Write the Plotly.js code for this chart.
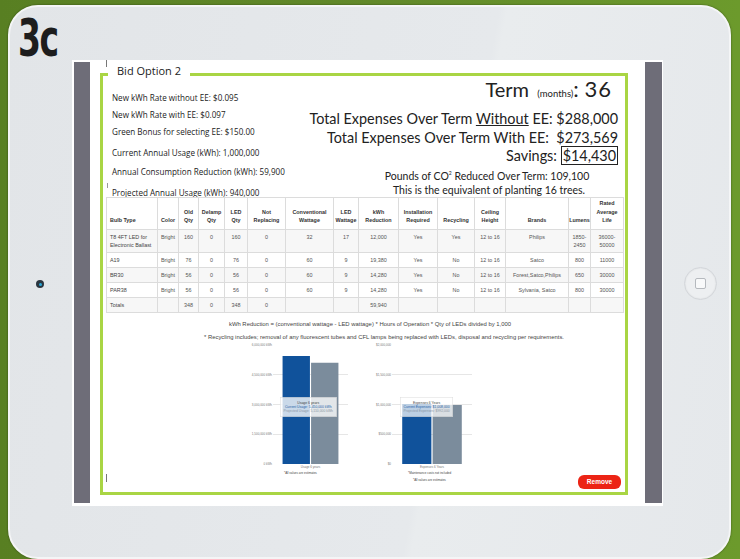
<!DOCTYPE html>
<html><head><meta charset="utf-8">
<script src="https://cdn.plot.ly/plotly-3.0.1.min.js"></script>
<style>
html,body{margin:0;padding:0;}
body{width:740px;height:559px;overflow:hidden;position:relative;background:linear-gradient(90deg,#587f22 0%,#62892a 50%,#6c9a2c 100%);font-family:"Open Sans",sans-serif;}
.abs{position:absolute;white-space:nowrap;}
#ipad{position:absolute;left:8px;top:5px;width:719px;height:550px;border-radius:30px;background:linear-gradient(100deg,#e2e5e8 0%,#e6e9ec 60%,#e9ecee 61%,#e5e8eb 100%);border:2px solid #f4f5f6;box-shadow:0 0 2px rgba(0,0,0,0.5);}
#screen{position:absolute;left:72px;top:60px;width:591px;height:446px;background:#fff;}
.side{position:absolute;top:62px;height:441px;background:#6e6d78;}
#box{position:absolute;left:100px;top:73px;width:522px;height:416px;border:3px solid #a9d544;}
#legend{position:absolute;left:108px;top:64px;width:82px;height:16px;background:#fff;}
.lt{font-family:"Open Sans",sans-serif;font-size:8.1px;color:#222;left:112px;line-height:10px;}
.hd{font-family:Lato,sans-serif;color:#222;right:122px;text-align:right;}
table{position:absolute;left:106px;top:197px;width:517px;border-collapse:collapse;table-layout:fixed;font-family:"Liberation Sans",Arial,sans-serif;font-size:5.4px;color:#555;}
td,th{border:0.6px solid #dcdcdc;text-align:center;padding:0;overflow:visible;}
th{vertical-align:bottom;padding-bottom:4px;line-height:8.6px;color:#333;font-weight:bold;}
td{vertical-align:top;padding-top:3px;line-height:8.4px;}
td.first,th.first{text-align:left;padding-left:3px;}
.fn{font-family:"Liberation Sans",Arial,sans-serif;font-size:5.9px;color:#444;left:0;width:740px;text-align:center;}
</style></head>
<body>
<div id="ipad"></div>
<div class="abs" style="left:18px;top:9px;font-family:'DejaVu Sans Condensed','DejaVu Sans',sans-serif;font-stretch:condensed;font-weight:bold;font-size:51px;color:#1d1d1d;letter-spacing:-2px;transform:scaleX(0.72);transform-origin:left top;">3c</div>
<div style="position:absolute;left:36px;top:280px;width:8px;height:8px;border-radius:50%;background:#2b3640;"></div>
<div style="position:absolute;left:38.5px;top:282.5px;width:3px;height:3px;border-radius:50%;background:#2aa6d6;"></div>
<div style="position:absolute;left:684px;top:267px;width:31px;height:31px;border-radius:50%;background:#edeff1;border:1px solid #d3d6da;box-shadow:inset 0 0 2px rgba(0,0,0,0.1);"></div>
<div style="position:absolute;left:695px;top:278px;width:9px;height:9px;border-radius:2px;border:1px solid #b5b9be;background:#f8f9fa;"></div>
<div id="screen"></div>
<div class="side" style="left:74px;width:16px;"></div>
<div class="side" style="left:645px;width:17px;"></div>
<div id="box"></div>
<div id="legend"></div>
<div class="abs" style="left:106px;top:60px;width:1px;height:7px;background:#777;"></div>
<div class="abs" style="left:107px;top:183px;width:1px;height:5px;background:#999;"></div>
<div class="abs" style="left:106px;top:474px;width:1px;height:8px;background:#777;"></div>
<div class="abs" style="left:117px;top:63px;font-size:11px;line-height:16px;color:#222;font-family:'Open Sans',sans-serif;">Bid Option 2</div>

<div id="leftText"></div>
<div id="headText"></div>

<table id="tbl"></table>

<div class="abs fn" style="top:321px;line-height:7px;">kWh Reduction = (conventional wattage - LED wattage) * Hours of Operation * Qty of LEDs divided by 1,000</div>
<div class="abs fn" style="top:334px;line-height:7px;padding-left:14px;">* Recycling includes; removal of any fluorescent tubes and CFL lamps being replaced with LEDs, disposal and recycling per requirements.</div>

<div id="chart1" style="position:absolute;left:226px;top:336px;width:130px;height:160px;"></div>
<div id="chart2" style="position:absolute;left:356px;top:336px;width:124px;height:160px;"></div>

<div class="abs" style="left:578px;top:475px;width:43px;height:14px;border-radius:6px;background:#ec2415;color:#fff;font-family:'Liberation Sans',Arial,sans-serif;font-size:6.5px;line-height:14px;text-align:center;font-weight:bold;">Remove</div>

<script>
// ---- values ----
const leftLabels = ["New kWh Rate without EE: $0.095","New kWh Rate with EE: $0.097","Green Bonus for selecting EE:  $150.00","Current Annual Usage (kWh): 1,000,000","Annual Consumption Reduction (kWh): 59,900","Projected Annual Usage (kWh): 940,000"];
const termMonths = 36;
const expensesWithout = "$288,000";
const expensesWith = "$273,569";
const savings = "$14,430";
const co2Reduced = "109,100";
const treesPlanted = 16;

const tableHeader = ["Bulb Type","Color","Old Qty","Delamp Qty","LED Qty","Not Replacing","Conventional Wattage","LED Wattage","kWh Reduction","Installation Required","Recycling","Ceiling Height","Brands","Lumens","Rated Average Life"];
const bulbTypes = ["T8 4FT LED for Electronic Ballast","A19","BR30","PAR38","Totals"];
const colors = ["Bright","Bright","Bright","Bright",""];
const oldQty = ["160","76","56","56","348"];
const delampQty = ["0","0","0","0","0"];
const ledQty = ["160","76","56","56","348"];
const notReplacing = ["0","0","0","0","0"];
const convWattage = ["32","60","60","60",""];
const ledWattage = ["17","9","9","9",""];
const kwhReduction = ["12,000","19,380","14,280","14,280","59,940"];
const installation = ["Yes","Yes","Yes","Yes",""];
const recycling = ["Yes","No","No","No",""];
const ceilingHeight = ["12 to 16","12 to 16","12 to 16","12 to 16",""];
const brands = ["Philips","Satco","Forest,Satco,Philips","Sylvania, Satco",""];
const lumens = ["1850-2450","800","650","800",""];
const ratedLife = ["36000-50000","11000","30000","30000",""];

const usageCategories = ["Usage 6 years"];
const currentUsage = [5450000];
const projectedUsage = [5110000];
const usageTicks = [0,1500000,3000000,4500000,6000000];
const usageTickText = ["0 kWh","1,500,000 kWh","3,000,000 kWh","4,500,000 kWh","6,000,000 kWh"];

const expenseCategories = ["Expenses 6 Years"];
const currentExpenses = [1008000];
const projectedExpenses = [992000];
const expenseTicks = [0,500000,1000000,1500000,2000000];
const expenseTickText = ["$0","$500,000","$1,000,000","$1,500,000","$2,000,000"];

// ---- left text ----
const leftY = [98,115,132,153,172,193];
let lh = "";
leftLabels.forEach((t,i)=>{ lh += `<div class="abs lt" style="top:${leftY[i]-5}px;">${t}</div>`; });
document.getElementById('leftText').innerHTML = lh;

// ---- header text ----
document.getElementById('headText').innerHTML =
 `<div class="abs hd" style="top:77px;line-height:24px;right:128px;"><span style="font-size:20px;">Term</span>&nbsp;&nbsp;<span style="font-size:9.5px;">(months)</span><span style="font-size:22px;">:&nbsp;<span style="letter-spacing:1px;">${termMonths}</span></span></div>`+
 `<div class="abs hd" style="top:110px;font-size:14.4px;line-height:18px;">Total Expenses Over Term <u>Without</u> EE: ${expensesWithout}</div>`+
 `<div class="abs hd" style="top:129px;font-size:14.4px;line-height:18px;">Total Expenses Over Term With EE:&nbsp; ${expensesWith}</div>`+
 `<div class="abs hd" style="top:147px;font-size:14.4px;line-height:17px;">Savings: <span style="border:1.5px solid #222;padding:0 1px;">${savings}</span></div>`+
 `<div class="abs" style="left:300px;width:374px;text-align:center;top:166px;font-family:Lato,sans-serif;font-size:10.5px;line-height:14px;color:#222;">Pounds of CO<sup style="font-size:5px;">2</sup> Reduced Over Term: ${co2Reduced}</div>`+
 `<div class="abs" style="left:300px;width:378px;text-align:center;top:183px;font-family:Lato,sans-serif;font-size:10.5px;line-height:14px;color:#222;">This is the equivalent of planting ${treesPlanted} trees.</div>`;

// ---- table ----
const colWidths = [51,21,20,26,23,38,48,25,40,39,37,31,63,22,33];
const rowHeights = [23,15,15,15,15];
const cols = [bulbTypes,colors,oldQty,delampQty,ledQty,notReplacing,convWattage,ledWattage,kwhReduction,installation,recycling,ceilingHeight,brands,lumens,ratedLife];
function wrapHeader(t){
  const map={"Old Qty":"Old<br>Qty","Delamp Qty":"Delamp<br>Qty","LED Qty":"LED<br>Qty","Not Replacing":"Not<br>Replacing","Conventional Wattage":"Conventional<br>Wattage","LED Wattage":"LED<br>Wattage","kWh Reduction":"kWh<br>Reduction","Installation Required":"Installation<br>Required","Ceiling Height":"Ceiling<br>Height","Rated Average Life":"Rated<br>Average<br>Life"};
  return map[t]||t;
}
function wrapCell(t){
  const map={"T8 4FT LED for Electronic Ballast":"T8 4FT LED for<br>Electronic Ballast","1850-2450":"1850-<br>2450","36000-50000":"36000-<br>50000"};
  return map[t]||t;
}
let th = "<colgroup>"+colWidths.map(w=>`<col style="width:${w}px">`).join("")+"</colgroup>";
th += `<tr style="height:32px;">`+tableHeader.map((h,i)=>`<th class="${i==0?'first':''}">${wrapHeader(h)}</th>`).join("")+"</tr>";
for(let r=0;r<bulbTypes.length;r++){
  const bg = (r%2==0)?"#f7f7f7":"#ffffff";
  th += `<tr style="height:${rowHeights[r]}px;background:${bg};">`+cols.map((c,i)=>`<td class="${i==0?'first':''}" style="${i==0?'color:#444;':''}">${wrapCell(c[r])}</td>`).join("")+"</tr>";
}
document.getElementById('tbl').innerHTML = th;

// ---- charts ----
const blue = "#10529b", grey = "#7b8c9c";
function fmt(n){return n.toLocaleString('en-US');}
const cfg = {staticPlot:true, displayModeBar:false};
function baseLayout(w, l, ticks, tickText, maxY){
  return {
    width:w, height:160, margin:{l:l, r:8, t:8.5, b:31.5, pad:0},
    paper_bgcolor:'rgba(0,0,0,0)', plot_bgcolor:'rgba(0,0,0,0)',
    barmode:'group', bargap:0.24, bargroupgap:0.04, showlegend:false,
    font:{family:'Liberation Sans, Arial, sans-serif', size:3, color:'#777'},
    yaxis:{range:[0,maxY], tickmode:'array', tickvals:ticks, ticktext:tickText, gridcolor:'#e6e6e6', gridwidth:1, zeroline:false, showline:false, ticks:'', ticklen:0, tickfont:{size:3,color:'#777'}},
    xaxis:{showgrid:false, zeroline:false, showline:false, ticks:'', tickfont:{size:3,color:'#777'}},
  };
}
const l1 = baseLayout(130, 47, usageTicks, usageTickText, 6000000);
l1.annotations = [
  {xref:'paper', yref:'paper', x:0.47, y:0.479, showarrow:false, align:'center',
   text:`<span style="color:#444">${usageCategories[0]}</span><br><span style="color:#1f5fa8">Current Usage: ${fmt(currentUsage[0])} kWh</span><br><span style="color:#8a96a3">Projected Usage: ${fmt(projectedUsage[0])} kWh</span>`,
   font:{size:3.4}, bgcolor:'rgba(255,255,255,0.78)', bordercolor:'rgba(210,210,210,0.8)', borderwidth:0.5, borderpad:3},
  {xref:'paper', yref:'paper', x:0.36, y:-0.112, showarrow:false, text:'*All values are estimates', font:{size:3,color:'#444'}}
];
Plotly.newPlot('chart1', [
  {type:'bar', x:usageCategories, y:currentUsage, marker:{color:blue}, hoverinfo:'none'},
  {type:'bar', x:usageCategories, y:projectedUsage, marker:{color:grey}, hoverinfo:'none'}
], l1, cfg);

const l2 = baseLayout(124, 36, expenseTicks, expenseTickText, 2000000);
l2.annotations = [
  {xref:'paper', yref:'paper', x:0.43, y:0.479, showarrow:false, align:'center',
   text:`<span style="color:#444">${expenseCategories[0]}</span><br><span style="color:#1f5fa8">Current Expenses: $${fmt(currentExpenses[0])}</span><br><span style="color:#8a96a3">Projected Expenses: $${fmt(projectedExpenses[0])}</span>`,
   font:{size:3.4}, bgcolor:'rgba(255,255,255,0.72)', bordercolor:'rgba(210,210,210,0.8)', borderwidth:0.5, borderpad:3},
  {xref:'paper', yref:'paper', x:0.47, y:-0.112, showarrow:false, text:'*Maintenance costs not included', font:{size:3,color:'#444'}},
  {xref:'paper', yref:'paper', x:0.47, y:-0.17, showarrow:false, text:'*All values are estimates', font:{size:3,color:'#444'}}
];
Plotly.newPlot('chart2', [
  {type:'bar', x:expenseCategories, y:currentExpenses, marker:{color:blue}, hoverinfo:'none'},
  {type:'bar', x:expenseCategories, y:projectedExpenses, marker:{color:grey}, hoverinfo:'none'}
], l2, cfg);
</script>
</body></html>
